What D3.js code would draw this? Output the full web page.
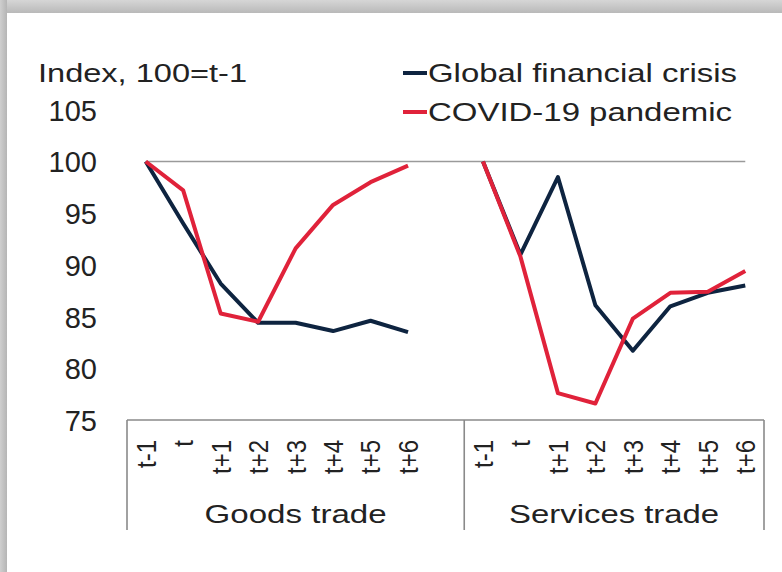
<!DOCTYPE html>
<html>
<head>
<meta charset="utf-8">
<script src="https://cdn.jsdelivr.net/npm/d3@7"></script>
<style>
  body { margin: 0; background: #fff; }
  text { font-family: "Liberation Sans", Arial, sans-serif; fill: #222; }
</style>
</head>
<body>
<div id="chart"></div>
<script>
// values
var periods = ["t-1", "t", "t+1", "t+2", "t+3", "t+4", "t+5", "t+6"];
var groups = ["Goods trade", "Services trade"];
var gfcGoods = [100, 94.0, 88.2, 84.4, 84.4, 83.6, 84.6, 83.5];
var covidGoods = [100, 97.2, 85.3, 84.5, 91.6, 95.8, 98.0, 99.6];
var gfcServices = [100, 91.0, 98.5, 86.1, 81.7, 86.0, 87.3, 88.0];
var covidServices = [100, 90.8, 77.6, 76.6, 84.8, 87.3, 87.4, 89.4];
var yTicks = [75, 80, 85, 90, 95, 100, 105];
var seriesNames = ["Global financial crisis", "COVID-19 pandemic"];
var colors = ["#0e2440", "#e0223a"];

var W = 782, H = 572;

var svg = d3.select("#chart").append("svg")
    .attr("width", W)
    .attr("height", H);

// card shadow frame
var defs = svg.append("defs");
var gTop = defs.append("linearGradient").attr("id", "topShade")
    .attr("x1", 0).attr("y1", 0).attr("x2", 0).attr("y2", 1);
gTop.append("stop").attr("offset", "0%").attr("stop-color", "#d6d6d6");
gTop.append("stop").attr("offset", "100%").attr("stop-color", "#b9b9b9");
var gLeft = defs.append("linearGradient").attr("id", "leftShade")
    .attr("x1", 0).attr("y1", 0).attr("x2", 1).attr("y2", 0);
gLeft.append("stop").attr("offset", "0%").attr("stop-color", "#cfcfcf");
gLeft.append("stop").attr("offset", "100%").attr("stop-color", "#b5b5b5");

svg.append("rect").attr("x", 0).attr("y", 0).attr("width", W).attr("height", 13)
    .attr("fill", "url(#topShade)");
svg.append("rect").attr("x", 0).attr("y", 0).attr("width", 7).attr("height", H)
    .attr("fill", "url(#leftShade)");

// categories: goods periods, an empty slot, services periods
var cats = periods.map(function(p, i) { return "g" + i; })
    .concat(["gap"])
    .concat(periods.map(function(p, i) { return "s" + i; }));

var xBand = d3.scaleBand().domain(cats).range([127, 764]).padding(0);
function xc(key) { return xBand(key) + xBand.bandwidth() / 2; }

var yScale = d3.scaleLinear().domain([75, 105]).range([420, 109.8]);

// y axis labels (no line, no ticks)
var yAxis = d3.axisLeft(yScale).tickValues(yTicks).tickSize(0).tickPadding(0);
var yAxisGroup = svg.append("g")
    .attr("transform", "translate(97,0)")
    .call(yAxis);
yAxisGroup.select(".domain").remove();
yAxisGroup.selectAll("text")
    .style("font-family", "'Liberation Sans', Arial, sans-serif")
    .style("font-size", "29px")
    .attr("fill", "#222")
    .attr("dy", "0.36em");

// reference line at 100
svg.append("line")
    .attr("x1", xc(cats[0])).attr("x2", xc(cats[cats.length - 1]))
    .attr("y1", yScale(100)).attr("y2", yScale(100))
    .attr("stroke", "#9a9a9a")
    .attr("stroke-width", 1.6);

// category box
var boxTop = yScale(75), boxBottom = 530;
svg.append("line")
    .attr("x1", xBand.range()[0]).attr("x2", xBand.range()[1])
    .attr("y1", boxTop).attr("y2", boxTop)
    .attr("stroke", "#8a8a8a").attr("stroke-width", 1.6);
[xBand("g0"), xBand("s0"), xBand.range()[1]].forEach(function(x) {
    svg.append("line")
        .attr("x1", x).attr("x2", x)
        .attr("y1", boxTop).attr("y2", boxBottom)
        .attr("stroke", "#8a8a8a").attr("stroke-width", 1.6);
});

// rotated period labels
var labelData = [];
periods.forEach(function(p, i) { labelData.push({key: "g" + i, label: p}); });
periods.forEach(function(p, i) { labelData.push({key: "s" + i, label: p}); });

svg.selectAll(".tick-label")
    .data(labelData)
    .enter().append("text")
    .attr("class", "tick-label")
    .attr("transform", function(d) {
        return "translate(" + xc(d.key) + "," + (boxTop + 20) + ") rotate(-90) scale(1,1.18)";
    })
    .attr("text-anchor", "end")
    .attr("dy", "0.35em")
    .style("font-size", "24px")
    .text(function(d) { return d.label; });

// group labels
var groupCenters = [
    (xBand("g0") + xBand("s0")) / 2,
    (xBand("s0") + xBand.range()[1]) / 2
];
var groupWidths = [182, 210];
svg.selectAll(".group-label")
    .data(groups)
    .enter().append("text")
    .attr("class", "group-label")
    .attr("x", function(d, i) { return groupCenters[i]; })
    .attr("y", 523)
    .attr("text-anchor", "middle")
    .attr("textLength", function(d, i) { return groupWidths[i]; })
    .attr("lengthAdjust", "spacingAndGlyphs")
    .style("font-size", "26px")
    .text(function(d) { return d; });

// lines
var line = d3.line()
    .x(function(d) { return xc(d.key); })
    .y(function(d) { return yScale(d.value); });

function toPoints(values, prefix) {
    return values.map(function(v, i) { return {key: prefix + i, value: v}; });
}

var seriesList = [
    {data: toPoints(gfcGoods, "g"), color: colors[0]},
    {data: toPoints(gfcServices, "s"), color: colors[0]},
    {data: toPoints(covidGoods, "g"), color: colors[1]},
    {data: toPoints(covidServices, "s"), color: colors[1]}
];

svg.selectAll(".series")
    .data(seriesList)
    .enter().append("path")
    .attr("class", "series")
    .attr("d", function(d) { return line(d.data); })
    .attr("fill", "none")
    .attr("stroke", function(d) { return d.color; })
    .attr("stroke-width", 4)
    .attr("stroke-linejoin", "round");

// title
svg.append("text")
    .attr("x", 38)
    .attr("y", 82)
    .attr("textLength", 209)
    .attr("lengthAdjust", "spacingAndGlyphs")
    .style("font-size", "26px")
    .text("Index, 100=t-1");

// legend
var legendWidths = [309, 304];
var legend = svg.selectAll(".legend")
    .data(seriesNames)
    .enter().append("g")
    .attr("class", "legend")
    .attr("transform", function(d, i) { return "translate(403," + (82 + i * 39) + ")"; });

legend.append("line")
    .attr("x1", 0).attr("x2", 24)
    .attr("y1", -9).attr("y2", -9)
    .attr("stroke", function(d, i) { return colors[i]; })
    .attr("stroke-width", 4);

legend.append("text")
    .attr("x", 25)
    .attr("y", 0)
    .attr("textLength", function(d, i) { return legendWidths[i]; })
    .attr("lengthAdjust", "spacingAndGlyphs")
    .style("font-size", "26px")
    .text(function(d) { return d; });
</script>
</body>
</html>
